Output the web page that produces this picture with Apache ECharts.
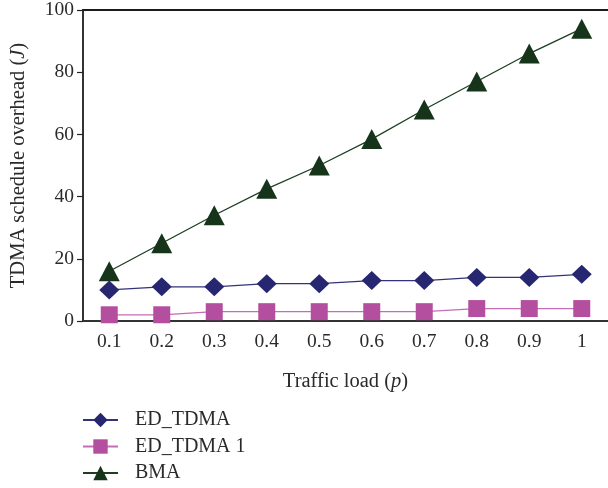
<!DOCTYPE html>
<html>
<head>
<meta charset="utf-8">
<script src="https://cdn.jsdelivr.net/npm/echarts@6/dist/echarts.min.js"></script>
<style>html,body{margin:0;padding:0;background:#fff}#c{width:608px;height:488px}</style>
</head>
<body>
<div id="c"></div>
<script>
const categories = ['0.1','0.2','0.3','0.4','0.5','0.6','0.7','0.8','0.9','1'];
const edTdma = [10, 11, 11, 12, 12, 13, 13, 14, 14, 15];
const edTdma1 = [2, 2, 3, 3, 3, 3, 3, 4, 4, 4];
const bma = [16, 25, 34, 42.5, 50, 58.5, 68, 77, 86, 94];
const yTicks = [0, 20, 40, 60, 80, 100];

const FONT = '"Liberation Serif", "DejaVu Serif", serif';
const TXT = '#2a2a2a';

const chart = echarts.init(document.getElementById('c'), null, {renderer: 'canvas'});
chart.setOption({
  animation: false,
  backgroundColor: '#fff',
  grid: {left: 82, top: 6.3, width: 528, bottom: 167},
  xAxis: [{
    type: 'category',
    data: categories,
    boundaryGap: true,
    axisLine: {lineStyle: {color: '#333', width: 2}},
    axisTick: {inside: true, length: 6, lineStyle: {color: '#222', width: 1.2}},
    axisLabel: {color: TXT, fontFamily: FONT, fontSize: 19.5, margin: 11},
    name: 'Traffic load ({i|p})',
    nameLocation: 'middle',
    nameGap: 50,
    nameTextStyle: {color: TXT, fontFamily: FONT, fontSize: 20.5,
      rich: {i: {fontStyle: 'italic', fontFamily: FONT, fontSize: 20.5, color: TXT}}}
  }, {
    type: 'category',
    data: categories,
    position: 'top',
    axisLine: {show: true, lineStyle: {color: '#1a1a1a', width: 2}},
    axisTick: {show: false},
    axisLabel: {show: false}
  }],
  yAxis: {
    type: 'value',
    min: yTicks[0],
    max: yTicks[yTicks.length - 1],
    interval: 20,
    splitLine: {show: false},
    axisLine: {show: true, lineStyle: {color: '#333', width: 2}},
    axisTick: {show: true, inside: false, length: 6, lineStyle: {color: '#222', width: 1.2}},
    axisLabel: {color: TXT, fontFamily: FONT, fontSize: 19.5, margin: 9},
    name: 'TDMA schedule overhead ({i|J})',
    nameLocation: 'middle',
    nameGap: 54,
    nameTextStyle: {color: TXT, fontFamily: FONT, fontSize: 20.5,
      rich: {i: {fontStyle: 'italic', fontFamily: FONT, fontSize: 20.5, color: TXT}}}
  },
  legend: {
    orient: 'vertical',
    left: 82,
    top: 410,
    height: 78,
    padding: 0,
    itemWidth: 35,
    itemHeight: 18,
    itemGap: 6.5,
    textStyle: {color: TXT, fontFamily: FONT, fontSize: 20, padding: [0, 0, 0, 12]},
    data: ['ED_TDMA', 'ED_TDMA 1', 'BMA']
  },
  series: [
    {name: 'ED_TDMA', type: 'line', data: edTdma, symbol: 'diamond', symbolSize: [20, 19],
     itemStyle: {color: '#272670'}, lineStyle: {color: '#353378', width: 1.3}},
    {name: 'ED_TDMA 1', type: 'line', data: edTdma1, symbol: 'rect', symbolSize: 17,
     itemStyle: {color: '#b44fa0'}, lineStyle: {color: '#c56cb4', width: 1.3}},
    {name: 'BMA', type: 'line', data: bma, symbol: 'triangle', symbolSize: [21, 20],
     itemStyle: {color: '#16341a'}, lineStyle: {color: '#1d3f22', width: 1.3}}
  ]
});
</script>
</body>
</html>
